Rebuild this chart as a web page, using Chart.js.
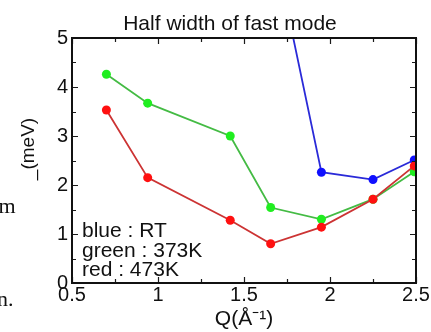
<!DOCTYPE html>
<html>
<head>
<meta charset="utf-8">
<script src="https://cdn.jsdelivr.net/npm/chart.js@4.4.1/dist/chart.umd.min.js"></script>
<style>
  html, body { margin: 0; padding: 0; background: #fff; }
  #wrap { position: relative; width: 431px; height: 332px; }
</style>
</head>
<body>
<div id="wrap"><canvas id="chart" width="431" height="332"></canvas></div>
<script>
// values
var qValues = [0.70, 0.94, 1.42, 1.655, 1.95, 2.25, 2.49];
var green373 = [4.26, 3.67, 3.00, 1.54, 1.30, 1.71, 2.27];
var red473 = [3.53, 2.15, 1.28, 0.80, 1.14, 1.71, 2.39];
var blueQ = [1.655, 1.95, 2.25, 2.49];
var blueRT = [7.2, 2.26, 2.11, 2.51];
var legendLines = ["blue : RT", "green : 373K", "red : 473K"];
var chartTitle = "Half width of fast mode";

var FONT = '"Liberation Sans", Arial, sans-serif';

function toPoints(xs, ys){
    return xs.map((x, i) => ({x: x, y: ys[i]}));
}

// frame with inward ticks on all four sides, text inside the plot
var framePlugin = {
    id: 'frame',
    afterDatasetsDraw: function(chart){
        var ctx = chart.ctx;
        var a = chart.chartArea;
        var xs = chart.scales.x, ys = chart.scales.y;
        ctx.save();
        ctx.strokeStyle = '#1a1a1a';
        ctx.lineWidth = 1.2;
        ctx.beginPath();
        for(var v = 0.5; v <= 2.5001; v += 0.25){
            var px = Math.round(xs.getPixelForValue(v)) + 0.5;
            var len = (Math.abs(v * 2 - Math.round(v * 2)) < 0.01) ? 6 : 4;
            ctx.moveTo(px, a.bottom); ctx.lineTo(px, a.bottom - len);
            ctx.moveTo(px, a.top); ctx.lineTo(px, a.top + len);
        }
        for(var w = 0; w <= 5.001; w += 0.5){
            var py = Math.round(ys.getPixelForValue(w)) + 0.5;
            var len2 = (Math.abs(w - Math.round(w)) < 0.01) ? 6 : 4;
            ctx.moveTo(a.left, py); ctx.lineTo(a.left + len2, py);
            ctx.moveTo(a.right, py); ctx.lineTo(a.right - len2, py);
        }
        ctx.stroke();
        ctx.lineWidth = 2;
        ctx.strokeStyle = '#111';
        ctx.strokeRect(a.left, a.top, a.right - a.left, a.bottom - a.top);

        ctx.fillStyle = '#111';
        ctx.font = '21px ' + FONT;
        ctx.textAlign = 'left';
        ctx.textBaseline = 'alphabetic';
        legendLines.forEach(function(t, i){
            ctx.fillText(t, a.left + 10, a.bottom - 46 + i * 19.5);
        });

        // title, sits a bit left of the plot centre
        ctx.textAlign = 'center';
        ctx.fillText(chartTitle, 230, 30);

        // y axis title
        ctx.save();
        ctx.translate(34, 149);
        ctx.rotate(-Math.PI / 2);
        ctx.font = '19px ' + FONT;
        ctx.textAlign = 'center';
        ctx.fillText('_(meV)', 0, 0);
        ctx.restore();

        // bits of surrounding page text
        ctx.font = '22px "Liberation Serif", "Times New Roman", serif';
        ctx.textAlign = 'right';
        ctx.fillText('m', 15.5, 213);
        ctx.fillText('n.', 13.5, 306);
        ctx.restore();
    }
};

new Chart(document.getElementById('chart'), {
    type: 'line',
    data: {
        datasets: [
            { label: 'red : 473K', data: toPoints(qValues, red473),
              borderColor: '#cc3333', backgroundColor: '#ff1010', pointBorderColor: '#ff1010', order: 0 },
            { label: 'green : 373K', data: toPoints(qValues, green373),
              borderColor: '#44bb44', backgroundColor: '#20ee20', pointBorderColor: '#20ee20', order: 1 },
            { label: 'blue : RT', data: toPoints(blueQ, blueRT),
              borderColor: '#2a2ad8', backgroundColor: '#1010ff', pointBorderColor: '#1010ff', order: 2 }
        ]
    },
    options: {
        responsive: false,
        animation: false,
        devicePixelRatio: 1,
        elements: {
            line: { borderWidth: 1.8, tension: 0 },
            point: { radius: 4.5, borderWidth: 0, hoverRadius: 4.5 }
        },
        layout: { padding: { left: 0, right: 15, top: 38, bottom: 0 } },
        plugins: {
            legend: { display: false },
            tooltip: { enabled: false },
            title: { display: false }
        },
        scales: {
            x: {
                type: 'linear', min: 0.5, max: 2.5,
                afterFit: function(s){ s.height = 49; },
                grid: { display: false, drawTicks: false },
                border: { display: false },
                ticks: { stepSize: 0.5, padding: 0, color: '#111',
                    callback: function(v){ return String(v); },
                    font: { family: FONT, size: 20 } },
                title: { display: true, text: 'Q(Å⁻¹)', color: '#111', padding: { top: 0, bottom: 0 },
                    font: { family: FONT, size: 21 } }
            },
            y: {
                type: 'linear', min: 0, max: 5,
                afterFit: function(s){ s.width = 72; },
                grid: { display: false, drawTicks: false },
                border: { display: false },
                ticks: { stepSize: 1, padding: 4, color: '#111',
                    font: { family: FONT, size: 20 } }
            }
        }
    },
    plugins: [framePlugin]
});
</script>
</body>
</html>
